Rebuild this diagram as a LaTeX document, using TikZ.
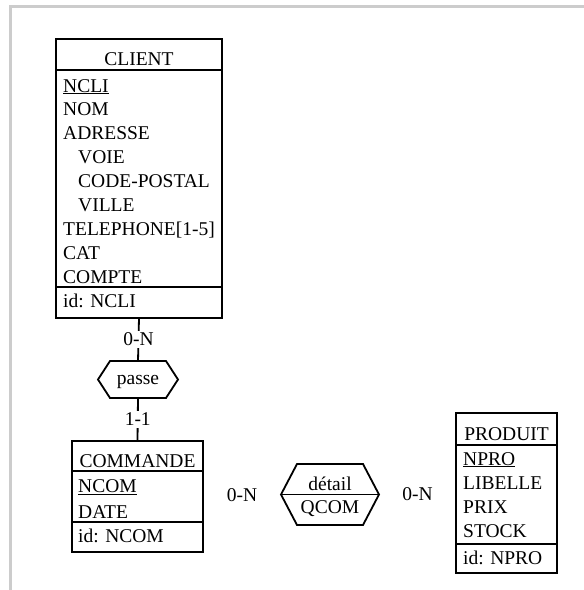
\documentclass[tikz,border=0pt]{standalone}
\usepackage{fontspec}
\setmainfont{Liberation Serif}
\usetikzlibrary{calc}
\newcommand\ind{\hspace*{15pt}}
\newcommand\erfont{\fontsize{19.5}{24}\selectfont}
% hexagon drawn round a relation node
\newcommand\hexa[2]{\draw[sep] (#1.west) -- ([xshift=#2pt]#1.north west) -- ([xshift=-#2pt]#1.north east)
  -- (#1.east) -- ([xshift=-#2pt]#1.south east) -- ([xshift=#2pt]#1.south west) -- cycle;}
\tikzset{
  entity/.style={draw, line width=1.8pt, outer sep=0pt, inner sep=0pt, anchor=north west},
  sep/.style={line width=1.8pt},
  title/.style={font=\erfont, inner sep=0pt, anchor=base},
  attr/.style={font=\erfont, inner sep=0pt, anchor=base west},
  card/.style={font=\erfont, fill=white, inner sep=2pt},
  rel/.style={outer sep=0pt, inner sep=0pt}
}
\begin{document}
\begin{tikzpicture}[x=1pt, y=-1pt]
  \useasboundingbox (0,0) rectangle (584,590);
  \draw[line width=2.7pt, black!20] (10.3,600) -- (10.3,6.3) -- (600,6.3);

  % CLIENT
  \node[entity, minimum width=166, minimum height=279] (client) at (56,39) {};
  \draw[sep] ([yshift=-31pt]client.north west) -- ([yshift=-31pt]client.north east);
  \draw[sep] ([yshift=31pt]client.south west) -- ([yshift=31pt]client.south east);
  \node[title] (client-name) at ([yshift=-26pt]client.north) {CLIENT};
  \foreach \a [count=\i] in {\underline{NCLI}, NOM, ADRESSE, \ind VOIE, \ind CODE-POSTAL,
      \ind VILLE, TELEPHONE[1-5], CAT, COMPTE}
    \node[attr] (client-\i) at ($(client.north west)+(7,{53+(\i-1)*23.9})$) {\a};
  \node[attr] (client-id) at ($(client.south west)+(7,-11)$) {id: NCLI};

  % COMMANDE
  \node[entity, minimum width=131, minimum height=111] (commande) at (72,441) {};
  \draw[sep] ([yshift=-30pt]commande.north west) -- ([yshift=-30pt]commande.north east);
  \draw[sep] ([yshift=30pt]commande.south west) -- ([yshift=30pt]commande.south east);
  \node[title] (commande-name) at ([yshift=-26pt]commande.north) {COMMANDE};
  \foreach \a [count=\i] in {\underline{NCOM}, DATE}
    \node[attr] (commande-\i) at ($(commande.north west)+(6,{51.7+(\i-1)*25.3})$) {\a};
  \node[attr] (commande-id) at ($(commande.south west)+(6,-10)$) {id: NCOM};

  % PRODUIT
  \node[entity, minimum width=101, minimum height=160] (produit) at (456,413) {};
  \draw[sep] ([yshift=-32pt]produit.north west) -- ([yshift=-32pt]produit.north east);
  \draw[sep] ([yshift=29pt]produit.south west) -- ([yshift=29pt]produit.south east);
  \node[title] (produit-name) at ([yshift=-27pt]produit.north) {PRODUIT};
  \foreach \a [count=\i] in {\underline{NPRO}, LIBELLE, PRIX, STOCK}
    \node[attr] (produit-\i) at ($(produit.north west)+(7,{52+(\i-1)*24.3})$) {\a};
  \node[attr] (produit-id) at ($(produit.south west)+(7,-9)$) {id: NPRO};

  % passe
  \node[rel, minimum width=80, minimum height=37] (passe) at (138,379.5) {};
  \hexa{passe}{12}
  \node[title] (passe-name) at ([yshift=-5pt]passe.center) {passe};
  \draw[sep] (client.south) -- node[card] (card-client) {0-N} (passe.north);
  \draw[sep] (passe.south) -- node[card] (card-commande) {1-1} (commande.north);

  % detail
  \node[rel, minimum width=98, minimum height=61] (detail) at (330,494.5) {};
  \hexa{detail}{16}
  \draw[sep] (detail.west) -- (detail.east);
  \node[title] (detail-name) at ([yshift=4pt]detail.center) {détail};
  \node[title] (detail-attr) at ([yshift=-19pt]detail.center) {QCOM};
  \path (commande.east) -- node[card] (card-detail-c) {0-N} (detail.west);
  \path (detail.east) -- node[card] (card-detail-p) {0-N} (produit.west);
\end{tikzpicture}
\end{document}
